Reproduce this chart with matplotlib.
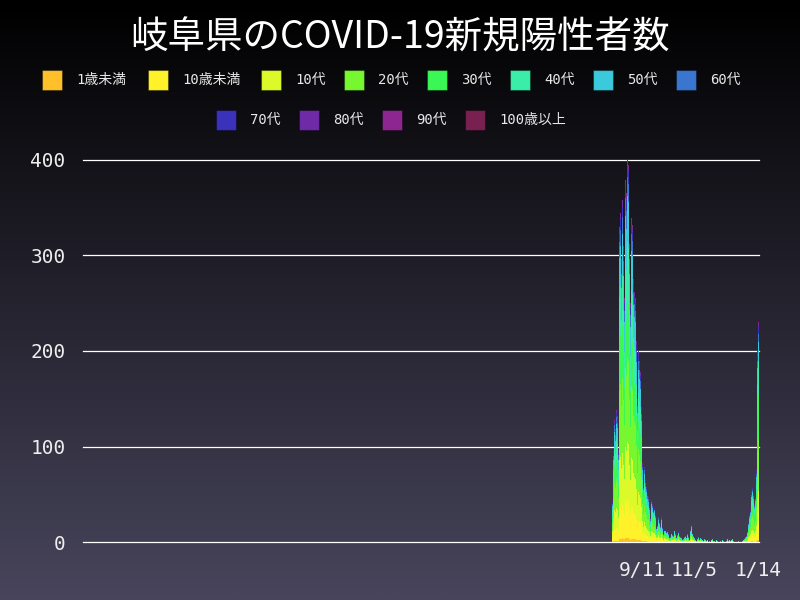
import numpy as np
import pandas as pd
import matplotlib
matplotlib.use('Agg')
import matplotlib.pyplot as plt
from matplotlib.patches import Rectangle

# 年代区分と色
age_groups = ['1歳未満', '10歳未満', '10代', '20代', '30代', '40代',
              '50代', '60代', '70代', '80代', '90代', '100歳以上']
age_colors = ['#ffc02a', '#fff22a', '#dcfa2a', '#77f72f', '#3af755', '#3aeeaa',
              '#3acadb', '#3a75cf', '#3a32bb', '#6f2aa8', '#8e2692', '#782050']

# 表示期間 (それ以前は0件)
axis_start = '2020-01-17'
axis_end = '2022-01-14'
data_start = '2021-08-10'

# 1日あたりの新規陽性者数 (2021-08-10 から 2022-01-14)
daily_total = [
    42, 95, 128, 118, 138, 132, 96,
    330, 344, 296, 358, 310, 255, 265,
    379, 365, 402, 395, 312, 250, 339,
    332, 275, 262, 255, 210, 150, 229,
    200, 190, 178, 141, 83, 60, 79,
    65, 58, 50, 47, 38, 25, 30,
    44, 40, 33, 36, 28, 15, 18,
    26, 21, 17, 26, 16, 9, 8,
    13, 12, 10, 11, 8, 4, 5,
    9, 7, 6, 12, 8, 3, 4,
    7, 10, 6, 5, 4, 2, 3,
    5, 6, 4, 8, 5, 3, 2,
    12, 18, 9, 6, 4, 2, 1,
    3, 5, 2, 4, 3, 1, 2,
    1, 3, 2, 1, 2, 0, 1,
    0, 2, 3, 1, 2, 1, 0,
    2, 1, 0, 0, 1, 0, 2,
    1, 0, 0, 1, 2, 3, 1,
    2, 1, 2, 3, 1, 0, 0,
    0, 0, 1, 0, 0, 0, 0,
    1, 2, 3, 5, 6, 10, 20,
    28, 33, 52, 57, 68, 50, 40,
    47, 75, 200, 230,
]

# 期間ごとの年代構成比 (図の色の割合から読み取り)
share_wave5 = [0.01, 0.10, 0.15, 0.22, 0.15, 0.15, 0.12, 0.05, 0.03, 0.015, 0.005, 0.0]
share_low = [0.01, 0.12, 0.14, 0.20, 0.15, 0.14, 0.12, 0.06, 0.03, 0.02, 0.01, 0.0]
share_wave6 = [0.01, 0.09, 0.13, 0.24, 0.20, 0.15, 0.09, 0.04, 0.03, 0.015, 0.005, 0.0]
low_from = '2021-10-01'
wave6_from = '2022-01-01'

tick_dates = ['2021-09-11', '2021-11-05', '2022-01-14']
tick_labels = ['9/11', '11/5', '1/14']

mono_jp = ['DejaVu Sans Mono', 'Noto Sans CJK JP']

# 年代別の件数を作る
dates = pd.date_range(data_start, periods=len(daily_total), freq='D')
total = np.array(daily_total, dtype=float)
shares = np.array([share_wave5 if d < pd.Timestamp(low_from)
                   else (share_low if d < pd.Timestamp(wave6_from) else share_wave6)
                   for d in dates])
cum = np.round(total[:, None] * np.cumsum(shares, axis=1))
cum[:, -1] = total
counts = np.diff(np.hstack([np.zeros((len(total), 1)), cum]), axis=1)

fig = plt.figure(figsize=(8, 6), dpi=100)

# 背景のグラデーション
bg = fig.add_axes([0, 0, 1, 1], zorder=-10)
grad = np.linspace(0, 1, 256)[:, None]
top = np.array([0, 0, 0]) / 255
bottom = np.array([72, 69, 92]) / 255
img = top + (bottom - top) * grad[:, :, None]
bg.imshow(img, aspect='auto', extent=[0, 1, 0, 1], origin='upper')
bg.axis('off')

fig.text(0.5, 1 - 38 / 600, '岐阜県のCOVID-19新規陽性者数', color='white',
         fontsize=27, ha='center', va='center', family=['Noto Sans CJK JP'])

# 凡例 (手動配置)
legend_pos = [(42, 80), (148, 80), (261, 80), (344, 80), (427, 80), (510, 80),
              (593, 80), (676, 80), (216, 120), (299, 120), (382, 120), (465, 120)]
for (px, py), name, col in zip(legend_pos, age_groups, age_colors):
    fig.patches.append(Rectangle((px / 800, 1 - (py + 10) / 600), 20 / 800, 20 / 600,
                                 transform=fig.transFigure, facecolor=col,
                                 edgecolor='#00000055', linewidth=0.8))
    fig.text((px + 34) / 800, 1 - py / 600, name, color='#e8e8e8', fontsize=10,
             ha='left', va='center', family=mono_jp)

ax = fig.add_axes([83 / 800, 58 / 600, 676 / 800, 382 / 600])
ax.set_facecolor('none')

bottom_vals = np.zeros(len(total))
for i, col in enumerate(age_colors):
    ax.bar(dates, counts[:, i], bottom=bottom_vals, width=1.0, color=col,
           linewidth=0, zorder=3)
    bottom_vals += counts[:, i]

ax.set_xlim(pd.Timestamp(axis_start) - pd.Timedelta(hours=12),
            pd.Timestamp(axis_end) + pd.Timedelta(hours=12))
ax.set_ylim(0, 400)
ax.set_yticks([0, 100, 200, 300, 400])
ax.set_xticks(pd.to_datetime(tick_dates))
ax.set_xticklabels(tick_labels)
ax.yaxis.grid(True, color='white', linewidth=0.9, zorder=1)
for gl in ax.get_ygridlines():
    gl.set_clip_on(False)
ax.tick_params(axis='both', length=0, colors='#eeeeee', labelsize=14)
ax.tick_params(axis='y', pad=12.5)
ax.tick_params(axis='x', pad=14)
for lbl in ax.get_xticklabels() + ax.get_yticklabels():
    lbl.set_family(mono_jp)
for s in ax.spines.values():
    s.set_visible(False)

plt.savefig('out.png', dpi=100)
